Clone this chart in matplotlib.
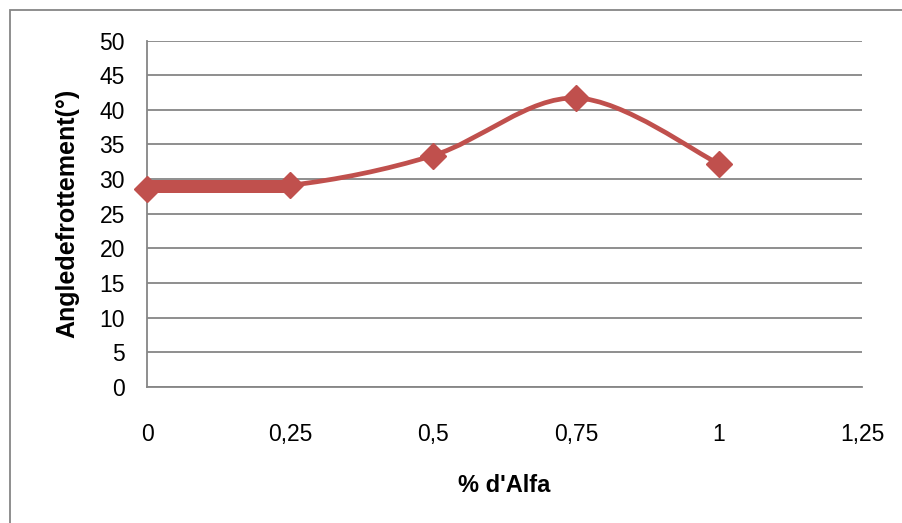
import numpy as np
import matplotlib
matplotlib.use("Agg")
import matplotlib.pyplot as plt
from matplotlib.path import Path
from matplotlib.patches import PathPatch, Rectangle

# data
x_vals = [0, 0.25, 0.5, 0.75, 1]
y_vals = [28.5, 29.1, 33.4, 41.7, 32.2]
band_x = [0, 0.25]
band_low = [28.05, 28.05]
band_high = [29.8, 29.8]
x_ticks = [0, 0.25, 0.5, 0.75, 1, 1.25]
x_tick_labels = ["0", "0,25", "0,5", "0,75", "1", "1,25"]
y_ticks = [0, 5, 10, 15, 20, 25, 30, 35, 40, 45, 50]

color = "#C0504D"
grid_c = "#868686"

plt.rcParams['font.family'] = ['Liberation Sans', 'DejaVu Sans']

fig = plt.figure(figsize=(9.03, 5.23), dpi=100)
W, H = 903, 523
ax = fig.add_axes([147 / W, 1 - 387 / H, (862 - 147) / W, (387 - 40.5) / H])

# outer chart frame
fig.patches.append(Rectangle((10 / W, -0.05), 1.2, 1 - 10 / H + 0.05, transform=fig.transFigure,
                             fill=False, edgecolor=grid_c, linewidth=1.3))

ax.set_xlim(0, 1.25)
ax.set_ylim(0, 50)
ax.set_xticks(x_ticks)
ax.set_xticklabels(x_tick_labels)
ax.set_yticks(y_ticks)
ax.tick_params(axis='both', length=0, labelsize=16.5)
ax.tick_params(axis='x', pad=26)
ax.tick_params(axis='y', pad=16)
for s in ['top', 'right']:
    ax.spines[s].set_visible(False)
for s in ['left', 'bottom']:
    ax.spines[s].set_color(grid_c)
    ax.spines[s].set_linewidth(1.3)
ax.yaxis.grid(True, color=grid_c, linewidth=1.3)
ax.set_axisbelow(True)

# thick band between first two points
ax.fill_between(band_x, band_low, band_high, color=color, linewidth=0, zorder=3)

# Excel-like smoothed line (Bezier through points)
xs = np.array(x_vals, float)
ys = np.array(y_vals, float)
n = len(xs)
verts = [(xs[0], ys[0])]
codes = [Path.MOVETO]
for i in range(n - 1):
    p0 = np.array([xs[max(i - 1, 0)], ys[max(i - 1, 0)]])
    p1 = np.array([xs[i], ys[i]])
    p2 = np.array([xs[i + 1], ys[i + 1]])
    p3 = np.array([xs[min(i + 2, n - 1)], ys[min(i + 2, n - 1)]])
    c1 = p1 + (p2 - p0) / 6
    c2 = p2 - (p3 - p1) / 6
    verts += [tuple(c1), tuple(c2), tuple(p2)]
    codes += [Path.CURVE4] * 3
patch = PathPatch(Path(verts, codes), fill=False, edgecolor=color, linewidth=3.4,
                  capstyle='round', joinstyle='round', zorder=4)
ax.add_patch(patch)

ax.plot(xs, ys, linestyle='none', marker='D', markersize=13, color=color, zorder=5, clip_on=False)

ax.set_ylabel("Angledefrottement(°)", fontsize=18, fontweight='bold', labelpad=14)
ax.set_xlabel("% d'Alfa", fontsize=17, fontweight='bold', labelpad=20)

fig.savefig("out.png", dpi=100)
